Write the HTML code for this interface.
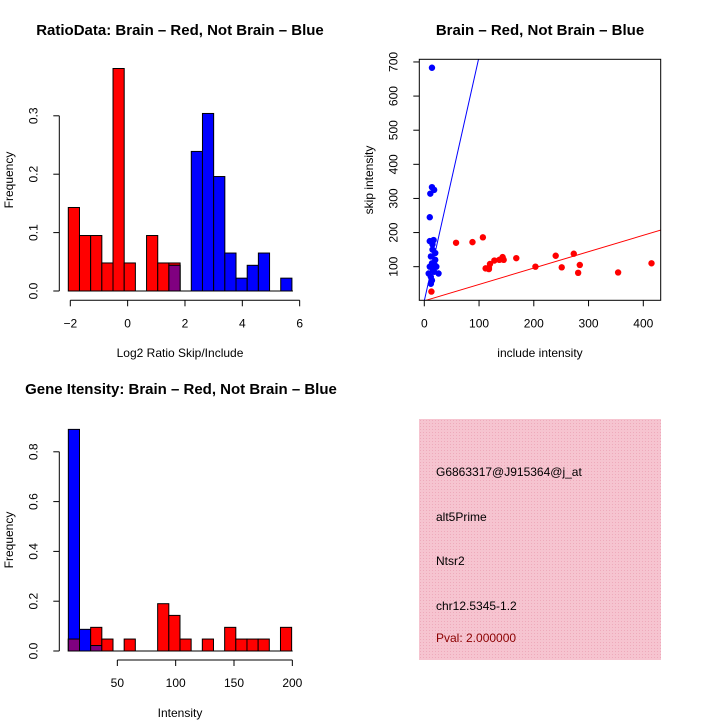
<!DOCTYPE html>
<html><head><meta charset="utf-8"><style>
html,body{margin:0;padding:0;background:#fff;}
svg{display:block;font-family:"Liberation Sans",sans-serif;}
</style></head><body>
<svg id="c" width="720" height="720" viewBox="0 0 720 720">
<rect x="0" y="0" width="720" height="720" fill="#fff"/>
<text x="180" y="35" text-anchor="middle" font-size="15" font-weight="bold">RatioData: Brain – Red, Not Brain – Blue</text>
<text x="540" y="35" text-anchor="middle" font-size="15" font-weight="bold">Brain – Red, Not Brain – Blue</text>
<text x="181" y="394" text-anchor="middle" font-size="15" font-weight="bold">Gene Itensity: Brain – Red, Not Brain – Blue</text>
<text x="180" y="357" text-anchor="middle" font-size="12">Log2 Ratio Skip/Include</text>
<text transform="translate(13,180) rotate(-90)" text-anchor="middle" font-size="12">Frequency</text>
<text x="540" y="357" text-anchor="middle" font-size="12">include intensity</text>
<text transform="translate(373,180) rotate(-90)" text-anchor="middle" font-size="12">skip intensity</text>
<text x="180" y="717" text-anchor="middle" font-size="12">Intensity</text>
<text transform="translate(13,540) rotate(-90)" text-anchor="middle" font-size="12">Frequency</text>
<g id="p1"></g><g id="p2"></g><g id="p3"></g>
<defs><pattern id="hatch" width="3" height="3" patternUnits="userSpaceOnUse"><rect width="3" height="3" fill="#f6c4d0"/><rect width="1" height="1" fill="#eeaabb"/></pattern></defs>
<rect x="419" y="419" width="242" height="241" fill="url(#hatch)"/>
<g font-size="12">
<text x="436" y="476">G6863317@J915364@j_at</text>
<text x="436" y="521">alt5Prime</text>
<text x="436" y="565">Ntsr2</text>
<text x="436" y="610">chr12.5345-1.2</text>
<text x="436" y="642" fill="#8b0000">Pval: 2.000000</text>
</g>
</svg>
<script>
const ratioRed=[0.143,0.095,0.095,0.048,0.381,0.048,0,0.095,0.048,0.048,0,0,0,0,0,0,0,0,0,0];
const ratioBlue=[0,0,0,0,0,0,0,0,0,0.044,0,0.239,0.304,0.196,0.065,0.022,0.044,0.065,0,0.022];
const ratioXTicks=[-2,0,2,4,6];
const ratioYTicks=[0,0.1,0.2,0.3];
const intRed=[0.048,0,0.095,0.048,0,0.048,0,0,0.19,0.143,0.048,0,0.048,0,0.095,0.048,0.048,0.048,0,0.095];
const intBlue=[0.89,0.087,0.022,0,0,0,0,0,0,0,0,0,0,0,0,0,0,0,0,0];
const intXTicks=[50,100,150,200];
const intYTicks=[0,0.2,0.4,0.6,0.8];
const redInclude=[13,58,88,107,112,118,120,118,128,137,143,145,168,203,240,251,273,281,284,354,415];
const redSkip=[27,170,172,186,95,97,108,93,118,120,128,120,125,100,132,98,138,82,105,83,110];
const blueInclude=[14,14,18,11,10,10,17,12,15,20,14,20,22,10,16,26,12,14,12,18,8,15,19];
const blueSkip=[683,333,325,314,245,175,178,130,150,140,110,120,100,100,90,80,70,60,50,85,80,165,105];
const scX=[0,100,200,300,400];
const scY=[100,200,300,400,500,600,700];
const blueSlope=[7.15];
const redSlope=[0.48];
const NS='http://www.w3.org/2000/svg';
function mk(p,t,a){const e=document.createElementNS(NS,t);for(const k in a)e.setAttribute(k,a[k]);p.appendChild(e);return e;}
function hist(g,red,blue,x0,bw,xs,ys,baseY,xTicks,yTicks,xAxisY,yAxisX,fmtY,name){
  const w=bw*(xs(1)-xs(0));
  for(let i=0;i<red.length;i++){
    const xl=xs(x0+i*bw);
    const r=red[i],b=blue[i];
    if(r>0){const e=mk(g,'rect',{x:xl,y:ys(r),width:w,height:baseY-ys(r),fill:'#ff0000',stroke:'#000','stroke-width':1});
      
      }
    if(b>0){const e=mk(g,'rect',{x:xl,y:ys(b),width:w,height:baseY-ys(b),fill:'#0000ff',stroke:'#000','stroke-width':1});
      
      }
    const m=Math.min(r,b);
    if(m>0){const e=mk(g,'rect',{x:xl,y:ys(m),width:w,height:baseY-ys(m),fill:'#800080',stroke:'#000','stroke-width':1});
      
      }
  }
  mk(g,'line',{x1:xs(x0),x2:xs(x0+red.length*bw)+1,y1:baseY,y2:baseY,stroke:'#000'});
  mk(g,'line',{x1:xs(xTicks[0]),x2:xs(xTicks[xTicks.length-1]),y1:xAxisY,y2:xAxisY,stroke:'#000'});
  xTicks.forEach(t=>{mk(g,'line',{x1:xs(t),x2:xs(t),y1:xAxisY,y2:xAxisY+6,stroke:'#000'});
    const e=mk(g,'text',{x:xs(t),y:xAxisY+27,'text-anchor':'middle','font-size':12});e.textContent=t<0?'\u2212'+(-t):t;
    
    });
  mk(g,'line',{x1:yAxisX,x2:yAxisX,y1:ys(yTicks[0]),y2:ys(yTicks[yTicks.length-1]),stroke:'#000'});
  yTicks.forEach(t=>{mk(g,'line',{x1:yAxisX-6,x2:yAxisX,y1:ys(t),y2:ys(t),stroke:'#000'});
    const e=mk(g,'text',{transform:`translate(${yAxisX-22},${ys(t)}) rotate(-90)`,'text-anchor':'middle','font-size':12});e.textContent=fmtY(t);
    
    });
}
{const xs=v=>70.3+(v+2)*28.67, ys=v=>291-v*584;
 hist(document.getElementById('p1'),ratioRed,ratioBlue,-2.07,0.39,xs,ys,291,ratioXTicks,ratioYTicks,300.3,59.3,t=>t.toFixed(1),'ratio');}
{const xs=v=>59+v*1.1667, ys=v=>651-v*249;
 hist(document.getElementById('p3'),intRed,intBlue,8,9.57,xs,ys,651,intXTicks,intYTicks,660,59.3,t=>t.toFixed(1),'intensity');}
{const g=document.getElementById('p2');
 const xs=v=>424.3+v*0.5475, ys=v=>300.8-v*0.3412;
 const L=419.3,R=660.7,T=59.3,B=300.3;
 const cp=mk(g,'clipPath',{id:'cp'});mk(cp,'rect',{x:L,y:T,width:R-L,height:B-T});
 const lb=mk(g,'line',{x1:xs(0),y1:ys(0),x2:xs(120),y2:ys(120*blueSlope[0]),stroke:'#0000ff','clip-path':'url(#cp)'});
 
 
 const lr=mk(g,'line',{x1:xs(0),y1:ys(0),x2:xs(450),y2:ys(450*redSlope[0]),stroke:'#ff0000','clip-path':'url(#cp)'});
 
 
 blueInclude.forEach((v,i)=>{const e=mk(g,'circle',{cx:xs(v),cy:ys(blueSkip[i]),r:3.2,fill:'#0000ff'});
   
   });
 redInclude.forEach((v,i)=>{const e=mk(g,'circle',{cx:xs(v),cy:ys(redSkip[i]),r:3.2,fill:'#ff0000'});
   
   });
 const bx=mk(g,'rect',{x:L,y:T,width:R-L,height:B-T,fill:'none',stroke:'#000'});
 
 
 scX.forEach(t=>{mk(g,'line',{x1:xs(t),x2:xs(t),y1:B,y2:B+6,stroke:'#000'});
   const e=mk(g,'text',{x:xs(t),y:B+27,'text-anchor':'middle','font-size':12});e.textContent=t;
   
   });
 scY.forEach(t=>{mk(g,'line',{x1:L-6,x2:L,y1:ys(t),y2:ys(t),stroke:'#000'});
   const e=mk(g,'text',{transform:`translate(${L-22},${ys(t)}) rotate(-90)`,'text-anchor':'middle','font-size':12});e.textContent=t;
   
   });
}
</script>
</body></html>
